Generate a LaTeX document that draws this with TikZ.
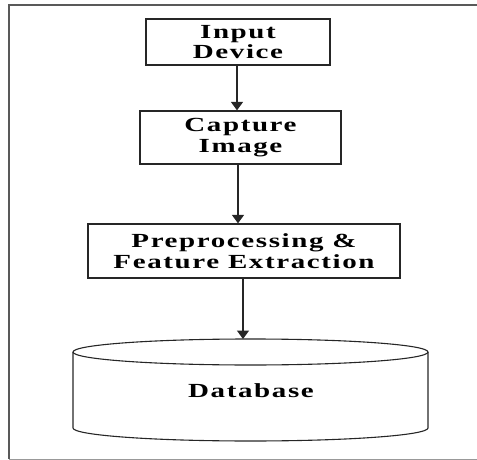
\documentclass[tikz,border=0pt]{standalone}
\usepackage{fontspec}
\setmainfont{Liberation Serif}[FakeStretch=1.45,LetterSpace=8]
\usetikzlibrary{arrows.meta}
\begin{document}
\begin{tikzpicture}[x=1pt,y=-1pt,
  label text/.style={font=\fontsize{20}{20.5}\selectfont\bfseries},
  stepbox/.style={label text,draw=black!85,line width=1.3pt,inner sep=0pt,align=center},
  flow/.style={draw=black!85,line width=1.5pt,-{Triangle[width=12pt,length=8.5pt]}},
  frameline/.style={draw=black!65,line width=2pt}]
\useasboundingbox (0,0) rectangle (477,460);
% outer frame (open on the right)
\draw[frameline] (477,5) -- (9,5) -- (9,459);
\draw[draw=black!40,line width=1pt] (9,459) -- (477,459);

% process boxes
\node[stepbox,minimum width=184pt,minimum height=46pt] (inp) at (238,42) {Input\\Device};
\node[stepbox,minimum width=201pt,minimum height=53pt] (cap) at (240.5,137.5) {Capture\\Image};
\node[stepbox,minimum width=312pt,minimum height=54pt] (pre) at (244,251) {Preprocessing \&\\Feature Extraction};

% database cylinder
\coordinate (dbtop) at (243,339);
\draw[draw=black!85,line width=1.1pt]
  (250.5,352) ellipse [x radius=177.5pt,y radius=13pt];
\draw[draw=black!85,line width=1.1pt]
  (73,352) -- (73,428) arc[start angle=180,end angle=360,x radius=177.5pt,y radius=13pt] -- (428,352);
\node[label text] (db) at (251,391) {Database};

% connectors
\draw[flow] (inp.south -| 237,0) -- (cap.north -| 237,0);
\draw[flow] (cap.south -| 238,0) -- (pre.north -| 238,0);
\draw[flow] (pre.south -| dbtop) -- (dbtop);
\end{tikzpicture}
\end{document}
